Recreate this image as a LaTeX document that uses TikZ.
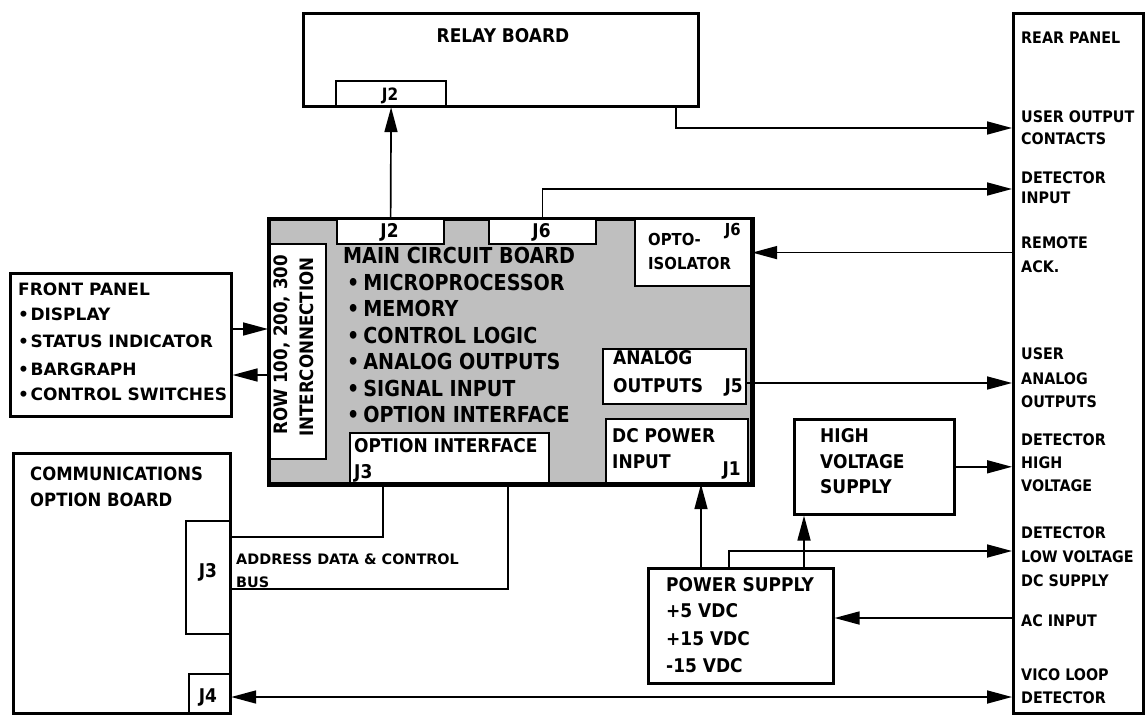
\documentclass[tikz,border=0pt]{standalone}
\usepackage{fontspec}
\setmainfont{DejaVu Sans}[FakeStretch=0.9]
\newfontfamily\widefont{DejaVu Sans}
\newfontfamily\condfont{DejaVu Sans}[FakeStretch=0.87]
\usetikzlibrary{arrows.meta,calc}
\newcommand\bul{•\hspace{1.5pt}}
\newcommand\mbul{•\hspace{4pt}}
\begin{document}
\begin{tikzpicture}[x=1pt,y=-1pt,
  box/.style={draw, line width=2.6pt, inner sep=0pt, anchor=north west, fill=white},
  ibox/.style={box, line width=2.2pt},
  conn/.style={line width=1.7pt},
  arr/.style={-{Triangle[length=25pt,width=13pt]}},
  darr/.style={{Triangle[length=25pt,width=13pt]}-{Triangle[length=25pt,width=13pt]}},
  lbl/.style={anchor=base west, inner sep=0pt, font=\bfseries\fontsize{18.9}{18.9}\selectfont},
  lblr/.style={lbl, anchor=base east},
  lblc/.style={lbl, anchor=base},
  rearf/.style={font=\bfseries\fontsize{15.9}{15.9}\selectfont},
  smallf/.style={font=\bfseries\fontsize{16.5}{16.5}\selectfont},
  addrf/.style={font=\widefont\bfseries\fontsize{14.4}{14.4}\selectfont},
  frontf/.style={font=\widefont\bfseries\fontsize{17}{17}\selectfont},
  commf/.style={font=\bfseries\fontsize{18.3}{18.3}\selectfont},
  rowf/.style={font=\bfseries\fontsize{18.5}{18.5}\selectfont},
  mainf/.style={font=\condfont\bfseries\fontsize{22}{22}\selectfont}
]
\useasboundingbox (0,0) rectangle (1148,715);

% ---- boxes
\node[box, minimum width=395pt, minimum height=93pt] (relay) at (302,12) {};
\node[ibox, minimum width=110pt, minimum height=25pt] (relayJ2) at (335,80) {};
\node[box, minimum width=130pt, minimum height=700pt] (rear) at (1012,12) {};
\node[box, line width=3pt, fill=black!25, minimum width=482pt, minimum height=264pt] (main) at (268,218) {};
\node[ibox, minimum width=56pt, minimum height=215pt] (row) at (269,243) {};
\node[ibox, minimum width=107pt, minimum height=25pt] (mJ2) at (336,218) {};
\node[ibox, minimum width=107pt, minimum height=25pt] (mJ6) at (488,218) {};
\node[ibox, minimum width=116pt, minimum height=67pt] (opto) at (634,218) {};
\node[ibox, minimum width=143pt, minimum height=55pt] (ana) at (602,348) {};
\node[ibox, minimum width=142pt, minimum height=64pt] (dc) at (605,418) {};
\node[ibox, minimum width=199pt, minimum height=50pt] (optif) at (349,432) {};
\draw[line width=3pt] (main.north west) rectangle (main.south east);
\node[box, minimum width=221pt, minimum height=143pt] (front) at (9,272) {};
\node[box, minimum width=217pt, minimum height=260pt] (comm) at (12,452) {};
\node[ibox, minimum width=44pt, minimum height=113pt] (cJ3) at (185,520) {};
\node[ibox, minimum width=41pt, minimum height=39pt] (cJ4) at (188,673) {};
\node[box, minimum width=160pt, minimum height=95pt] (hv) at (793,418) {};
\node[box, minimum width=185pt, minimum height=115pt] (ps) at (647,567) {};

% ---- helper coordinates
\coordinate (cRel) at (676,128);
\coordinate (cDet) at (0,189);
\coordinate (cAna) at (0,383);
\coordinate (cX1) at (701,0);
\coordinate (cX2) at (804,0);
\coordinate (cLV) at (729,551);
\coordinate (cAC) at (0,618);
\coordinate (cV) at (0,697);
\coordinate (cF1) at (0,329);
\coordinate (cF2) at (0,375);
\coordinate (cB1) at (383,537);
\coordinate (cB2) at (508,589);

% ---- connectors
\draw[conn,arr] (mJ2.north) -- (relayJ2.south);
\draw[conn,arr] (relay.south -| cRel) |- (rear.west |- cRel);
\draw[conn,arr] (mJ6.north) |- (rear.west |- cDet);
\draw[conn,arr] (rear.west |- opto.east) -- (opto.east);
\draw[conn,arr] (ana.east |- cAna) -- (rear.west |- cAna);
\draw[conn,arr] (hv.east) -- (rear.west |- hv.east);
\draw[conn,arr] (ps.north -| cX1) -- (dc.south -| cX1);
\draw[conn,arr] (ps.north -| cX2) -- (hv.south -| cX2);
\draw[conn,arr] (ps.north -| cLV) |- (rear.west |- cLV);
\draw[conn,arr] (rear.west |- cAC) -- (ps.east |- cAC);
\draw[conn,darr] (cJ4.east |- cV) -- (rear.west |- cV);
\draw[conn,arr] (front.east |- cF1) -- (main.west |- cF1);
\draw[conn,arr] (main.west |- cF2) -- (front.east |- cF2);
\draw[conn] (optif.south -| cB1) |- (cJ3.east |- cB1);
\draw[conn] (optif.south -| cB2) |- (cJ3.east |- cB2);

% ---- texts
\node[lblc] (trelay) at (503,42) {RELAY BOARD};
\node[lblc, font=\bfseries\fontsize{17}{17}\selectfont] (trJ2) at (390,100) {J2};
\node[lblc] (tmj2) at (389.5,237) {J2};
\node[lblc] (tmj6) at (541.5,237) {J6};
\node[lbl,smallf] (topto1) at (648,245) {OPTO-};
\node[lbl,smallf] (topto2) at (648,269) {ISOLATOR};
\node[lblr,smallf] (topto3) at (741,235) {J6};
\node[lbl] (tana1) at (613,364) {ANALOG};
\node[lbl] (tana2) at (613,392) {OUTPUTS};
\node[lblr] (tana3) at (743,392) {J5};
\node[lbl] (tdc1) at (612,442) {DC POWER};
\node[lbl] (tdc2) at (612,468) {INPUT};
\node[lblr] (tdc3) at (741,475) {J1};
\node[lbl] (toi1) at (354,452) {OPTION INTERFACE};
\node[lbl] (toi2) at (354,478) {J3};
\node[lbl, rotate=90, rowf] (trow1) at (287,435) {ROW 100, 200, 300};
\node[lbl, rotate=90, rowf] (trow2) at (313,437) {INTERCONNECTION};

\node[lbl,mainf] (tmain) at (343,263) {MAIN CIRCUIT BOARD};
\foreach \t/\y [count=\i] in {MICROPROCESSOR/290, MEMORY/316, CONTROL LOGIC/343, ANALOG OUTPUTS/369, SIGNAL INPUT/396, OPTION INTERFACE/422}
  \node[lbl,mainf] (tm\i) at (347,\y) {\mbul\t};

\node[lbl,frontf] (tfp) at (18,295) {FRONT PANEL};
\foreach \t/\y [count=\i] in {DISPLAY/320, STATUS INDICATOR/347, BARGRAPH/375, CONTROL SWITCHES/400}
  \node[lbl,frontf] (tf\i) at (18,\y) {\bul\t};

\node[lbl, commf] (tc1) at (30,480) {COMMUNICATIONS};
\node[lbl, commf] (tc2) at (30,506) {OPTION BOARD};
\node[lblc] (tcj3) at (208,577) {J3};
\node[lblc] (tcj4) at (208,702) {J4};
\node[lbl,addrf] (tad1) at (236,564) {ADDRESS DATA \& CONTROL};
\node[lbl,addrf] (tad2) at (236,587) {BUS};

\node[lbl] (thv1) at (820,442) {HIGH};
\node[lbl] (thv2) at (820,468) {VOLTAGE};
\node[lbl] (thv3) at (820,493) {SUPPLY};
\node[lbl] (tps1) at (666,591) {POWER SUPPLY};
\node[lbl] (tps2) at (666,617) {+5 VDC};
\node[lbl] (tps3) at (666,645) {+15 VDC};
\node[lbl] (tps4) at (666,672) {-15 VDC};

\foreach \t/\y [count=\i] in {REAR PANEL/43, USER OUTPUT/122, CONTACTS/144, DETECTOR/183, INPUT/203, REMOTE/248, ACK./272, USER/359, ANALOG/384, OUTPUTS/407, DETECTOR/445, HIGH/468, VOLTAGE/491, DETECTOR/538, LOW VOLTAGE/562, DC SUPPLY/586, AC INPUT/626, VICO LOOP/680, DETECTOR/703}
  \node[lbl,rearf] (tr\i) at (1021,\y) {\t};
\end{tikzpicture}
\end{document}
